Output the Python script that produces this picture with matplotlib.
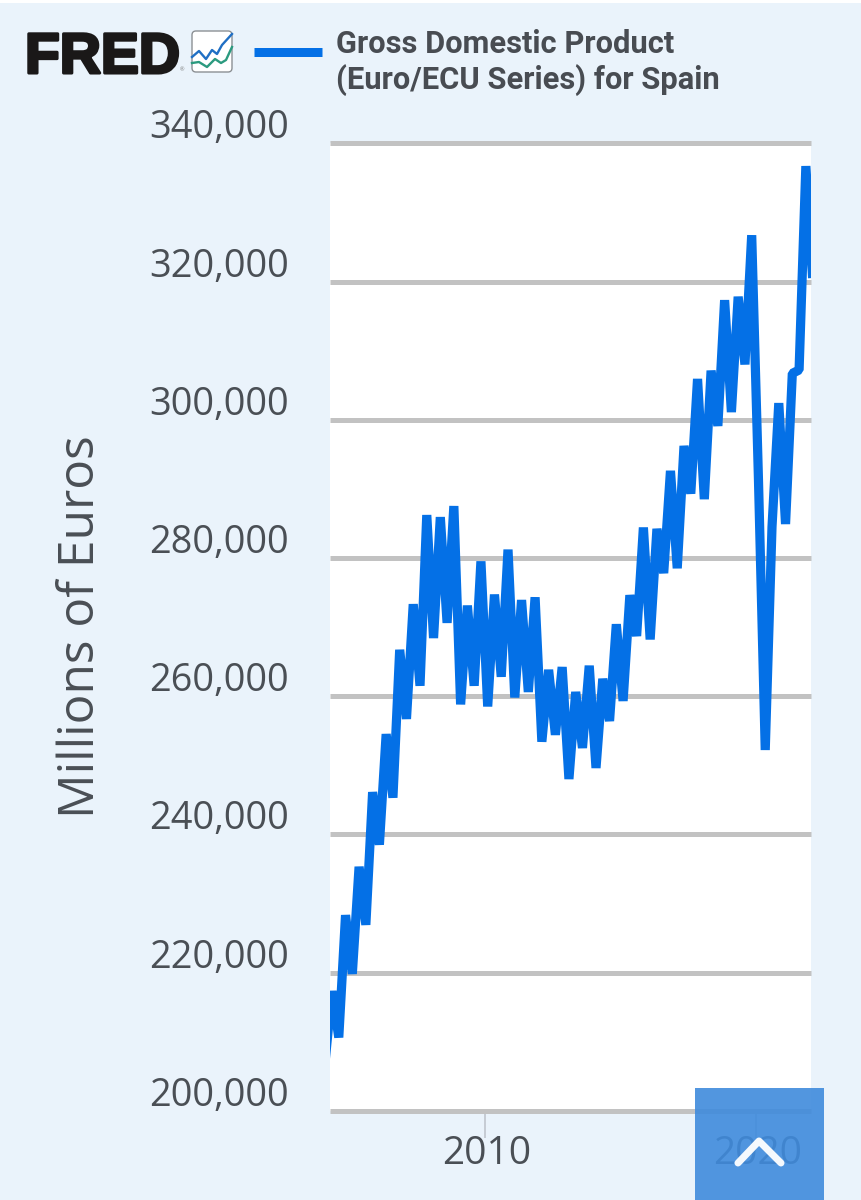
import matplotlib
matplotlib.use("Agg")
import matplotlib.pyplot as plt
import matplotlib.patheffects as pe
from matplotlib.patches import FancyBboxPatch, Rectangle
from matplotlib.transforms import ScaledTranslation

# quarterly values, millions of euros
gdp_2004 = [207300, 217300, 210600, 228300]
gdp_2005 = [219800, 235300, 226900, 246100]
gdp_2006 = [238500, 254500, 245300, 266700]
gdp_2007 = [256700, 273300, 261500, 286200]
gdp_2008 = [268400, 285900, 270600, 287500]
gdp_2009 = [258800, 273100, 261500, 279500]
gdp_2010 = [258500, 274700, 262800, 281200]
gdp_2011 = [259800, 273900, 260600, 274300]
gdp_2012 = [253400, 263800, 254400, 264200]
gdp_2013 = [248000, 260600, 252500, 264400]
gdp_2014 = [249600, 262500, 256400, 270400]
gdp_2015 = [259300, 274600, 268700, 284400]
gdp_2016 = [268200, 284200, 277800, 292600]
gdp_2017 = [278500, 296200, 289300, 305900]
gdp_2018 = [288500, 307100, 299100, 317300]
gdp_2019 = [301100, 317800, 308000, 326700]
gdp_2020 = [291300, 252200, 284500, 302400]
gdp_2021 = [284900, 306700, 307200, 336700]
gdp_2022 = [320500]

gdp = (gdp_2004 + gdp_2005 + gdp_2006 + gdp_2007 + gdp_2008 + gdp_2009 + gdp_2010
       + gdp_2011 + gdp_2012 + gdp_2013 + gdp_2014 + gdp_2015 + gdp_2016 + gdp_2017
       + gdp_2018 + gdp_2019 + gdp_2020 + gdp_2021 + gdp_2022)
# points sit a little inside each quarter
years = [2004.1 + 0.25 * i for i in range(len(gdp))]

y_ticks = [200000, 220000, 240000, 260000, 280000, 300000, 320000, 340000]
y_labels = ["200,000", "220,000", "240,000", "260,000", "280,000", "300,000", "320,000", "340,000"]
x_ticks = [2010, 2020]
x_labels = ["2010", "2020"]

series_name = "Gross Domestic Product\n(Euro/ECU Series) for Spain"
y_title = "Millions of Euros"

W, H = 861, 1200
PX = 0.72  # one pixel in points at dpi 100
BG = "#eaf3fb"
BLUE = "#0470e6"
TEXT = "#4a4f55"

plt.rcParams["font.family"] = ["Open Sans", "DejaVu Sans"]

fig = plt.figure(figsize=(W / 100, H / 100), dpi=100, facecolor=BG)
ax = fig.add_axes([330 / W, (H - 1110.7) / H, 481 / W, 967.4 / H])
ax.set_facecolor("white")

ax.plot(years, gdp, color=BLUE, lw=9.2 * PX, solid_joinstyle="bevel", solid_capstyle="butt", zorder=3)

ax.set_xlim(2004.276, 2022.04)
ax.set_ylim(200000, 340000)

ax.set_yticks(y_ticks, y_labels)
ax.set_xticks(x_ticks, x_labels)
ax.grid(axis="y", color="#c2c2c2", lw=5 * PX, solid_capstyle="butt", clip_on=False, zorder=1)
ax.set_axisbelow(True)
for line in ax.get_ygridlines():
    line.set_clip_on(False)

for side in ["top", "right", "left", "bottom"]:
    ax.spines[side].set_visible(False)

ax.tick_params(axis="y", length=0, pad=41 * PX, labelsize=27.3, labelcolor=TEXT)
ax.tick_params(axis="x", length=27 * PX, width=2 * PX, color="#c6ccd4", pad=-2, labelsize=28, labelcolor=TEXT)

# y labels stand above their grid lines
lift = ScaledTranslation(0, 5 / 72 * PX, fig.dpi_scale_trans)
for label in ax.get_yticklabels():
    label.set_verticalalignment("baseline")
    label.set_transform(label.get_transform() + lift)

# x labels sit slightly right of their ticks
nudge = ScaledTranslation(2 / 72 * PX, 0, fig.dpi_scale_trans)
for label in ax.get_xticklabels():
    label.set_transform(label.get_transform() + nudge)

fig.text(81 / W, 1 - 627 / H, y_title, rotation=90, ha="center", va="center", fontsize=35.7, color=TEXT)

# everything below is drawn in picture pixels
over = fig.add_axes([0, 0, 1, 1], zorder=5)
over.set_xlim(0, W)
over.set_ylim(H, 0)
over.axis("off")
over.patch.set_alpha(0)

over.add_patch(Rectangle((0, 0), W, 3, color="white", lw=0))

# legend
over.plot([254, 322], [51.5, 51.5], color=BLUE, lw=9 * PX, solid_capstyle="butt")
over.text(336, 62.5, series_name, fontsize=22.2, fontweight="bold", family="Roboto", color="#484c52",
          va="center", ha="left", linespacing=1.2)

# logo
over.text(25, 73, "FRED", fontsize=41, fontweight="bold", family="Liberation Sans", color="#1a1818",
          va="baseline", ha="left", path_effects=[pe.withStroke(linewidth=2.2, foreground="#1a1818")])
over.text(182, 70, "®", fontsize=4, color="#777777", ha="center", va="center")
over.add_patch(FancyBboxPatch((193, 32), 38, 39, boxstyle="round,pad=1,rounding_size=4",
                              fc="white", ec="#8c9094", lw=1))
over.plot([192, 199, 206, 212, 217, 222, 232], [57, 51, 59, 50, 54, 45, 34], color="#1f6fc4", lw=1.7)
over.plot([192, 199, 207, 215, 221, 226, 232], [63, 62, 67, 59, 63, 60, 47], color="#2b9a7f", lw=1.7)

# back to top button
over.add_patch(Rectangle((695, 1088), 129, 112, color="#3f8bdc", alpha=0.9, lw=0))
over.plot([738, 759, 781], [1163, 1141, 1163], color="white", alpha=0.95, lw=7 * PX,
          solid_capstyle="round", solid_joinstyle="round")

fig.savefig("out.png", dpi=100, facecolor=BG)
